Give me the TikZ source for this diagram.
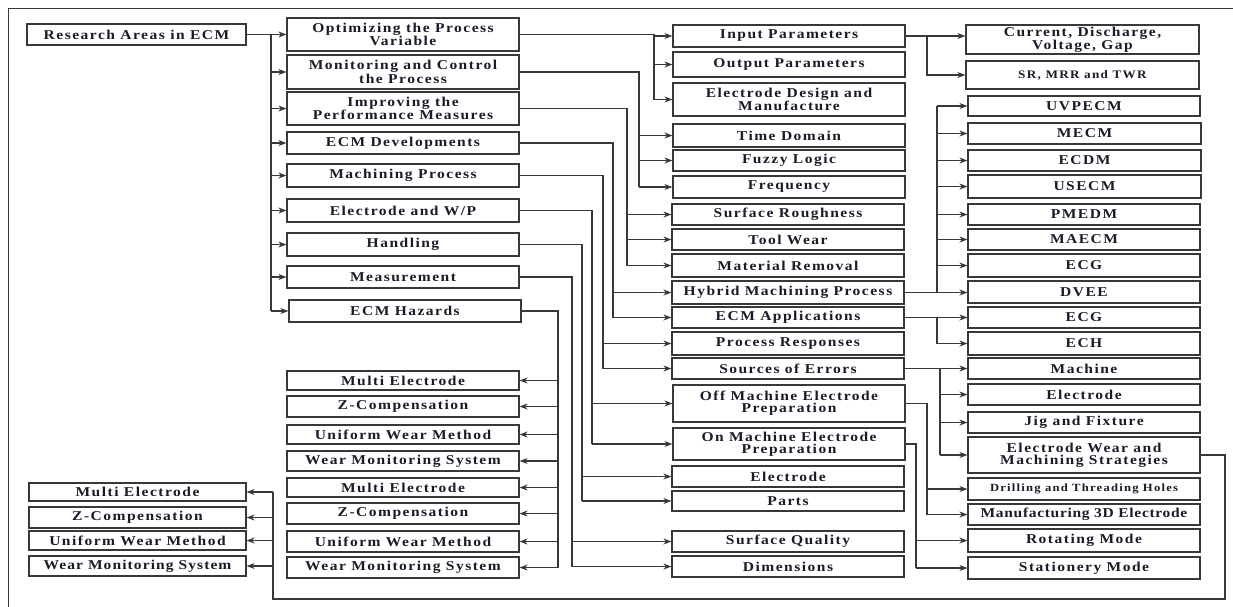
\documentclass[tikz,border=0pt]{standalone}
\usepackage{fontspec}
\setmainfont{Liberation Serif}[FakeStretch=1.15,LetterSpace=11]
\newfontfamily\tightfont{Liberation Serif}[FakeStretch=1.15,LetterSpace=5]
\newfontfamily\midfont{Liberation Serif}[FakeStretch=1.15,LetterSpace=8]
\usetikzlibrary{arrows.meta}
\definecolor{ink}{HTML}{1A1A28}
\definecolor{ln}{HTML}{383838}
\tikzset{
 box/.style={draw=ln, line width=1.2pt, rectangle, inner sep=0pt, align=center, text=ink, font=\fontsize{13.5}{12}\selectfont\bfseries},
 smallbox/.style={font=\fontsize{11.5}{11}\selectfont\bfseries},
 tinybox/.style={font=\fontsize{11}{11}\selectfont\bfseries},
 tightbox/.style={font=\tightfont\fontsize{13.5}{12}\selectfont\bfseries},
 midbox/.style={font=\midfont\fontsize{13.5}{12}\selectfont\bfseries},
 conn/.style={draw=ln, line width=1.1pt},
 arr/.style={conn, -{Stealth[length=8pt,width=6pt]}},
 frame/.style={draw=ln, line width=1pt}
}
\newcommand\bx[7][]{\node[box,#1,minimum width={(#5-#3)*1pt},minimum height={(#6-#4)*1pt}] (#2) at ({(#3+#5)/2},{(#4+#6)/2}) {#7};}
% trunk from parent's east side to bus x, down to the last child's level; then arrows to each child
\newcommand\busR[4]{%
  \draw[conn] (#1.east) -| (#2 |- #3.west);
  \foreach \c in {#4} \draw[arr] (#2 |- \c.west) -- (\c.west);}
\begin{document}
\begin{tikzpicture}[x=1pt,y=-1pt]
\useasboundingbox (0,0) rectangle (1233,606);
\draw[frame] (8,620) -- (8,8) -- (1245,8);
% column A
\bx{res}{27}{24}{246}{45}{Research Areas in ECM}
% column B
\bx{b1}{287}{18}{519}{51}{Optimizing the Process\\Variable}
\bx{b2}{287}{55}{519}{89}{Monitoring and Control\\the Process}
\bx{b3}{287}{92}{519}{125}{Improving the\\Performance Measures}
\bx{b4}{287}{132}{519}{154}{ECM Developments}
\bx{b5}{287}{164}{519}{187}{Machining Process}
\bx{b6}{287}{199}{519}{222}{Electrode and W/P}
\bx{b7}{287}{233}{519}{256}{Handling}
\bx{b8}{287}{266}{519}{288}{Measurement}
\bx{b9}{289}{300}{521}{322}{ECM Hazards}
% lower column B
\bx{m1}{287}{371}{519}{390}{Multi Electrode}
\bx{m2}{287}{396}{519}{417}{Z-Compensation}
\bx{m3}{287}{425}{519}{444}{Uniform Wear Method}
\bx{m4}{287}{451}{519}{471}{Wear Monitoring System}
\bx{m5}{287}{478}{519}{497}{Multi Electrode}
\bx{m6}{287}{503}{519}{524}{Z-Compensation}
\bx{m7}{287}{531}{519}{552}{Uniform Wear Method}
\bx{m8}{287}{557}{519}{578}{Wear Monitoring System}
% left column
\bx{l1}{29}{483}{246}{501}{Multi Electrode}
\bx{l2}{29}{507}{246}{528}{Z-Compensation}
\bx{l3}{29}{531}{246}{550}{Uniform Wear Method}
\bx[midbox]{l4}{29}{556}{246}{576}{Wear Monitoring System}
% column C
\bx{c1}{673}{25}{905}{47}{Input Parameters}
\bx{c2}{673}{52}{905}{77}{Output Parameters}
\bx{c3}{673}{83}{905}{116}{Electrode Design and\\Manufacture}
\bx{c4}{673}{124}{905}{147}{Time Domain}
\bx{c5}{673}{150}{905}{171}{Fuzzy Logic}
\bx{c6}{673}{176}{905}{198}{Frequency}
\bx{c7}{672}{204}{904}{225}{Surface Roughness}
\bx{c8}{672}{229}{904}{250}{Tool Wear}
\bx{c9}{672}{254}{904}{277}{Material Removal}
\bx{c10}{672}{281}{904}{304}{Hybrid Machining Process}
\bx{c11}{672}{307}{904}{328}{ECM Applications}
\bx{c12}{672}{332}{904}{355}{Process Responses}
\bx{c13}{672}{358}{904}{379}{Sources of Errors}
\bx{c14}{673}{385}{905}{422}{Off Machine Electrode\\Preparation}
\bx{c15}{673}{428}{905}{460}{On Machine Electrode\\Preparation}
\bx{c16}{672}{466}{904}{487}{Electrode}
\bx{c17}{672}{491}{904}{511}{Parts}
\bx{c18}{672}{531}{904}{552}{Surface Quality}
\bx{c19}{672}{556}{904}{577}{Dimensions}
% column D
\bx{d1}{966}{25}{1199}{54}{Current, Discharge,\\Voltage, Gap}
\bx[smallbox]{d2}{966}{61}{1199}{89}{SR, MRR and TWR}
\bx{d3}{968}{96}{1200}{116}{UVPECM}
\bx{d4}{968}{123}{1201}{144}{MECM}
\bx{d5}{968}{150}{1201}{171}{ECDM}
\bx{d6}{968}{175}{1201}{198}{USECM}
\bx{d7}{968}{204}{1200}{225}{PMEDM}
\bx{d8}{968}{229}{1200}{250}{MAECM}
\bx{d9}{968}{254}{1200}{277}{ECG}
\bx{d10}{968}{281}{1200}{303}{DVEE}
\bx{d11}{968}{307}{1200}{328}{ECG}
\bx{d12}{968}{332}{1200}{355}{ECH}
\bx{d13}{968}{358}{1200}{379}{Machine}
\bx{d14}{968}{384}{1200}{405}{Electrode}
\bx{d15}{968}{412}{1200}{433}{Jig and Fixture}
\bx{d16}{968}{437}{1200}{473}{Electrode Wear and\\Machining Strategies}
\bx[tinybox]{d17}{968}{478}{1200}{500}{Drilling and Threading Holes}
\bx[tightbox]{d18}{968}{504}{1200}{525}{Manufacturing 3D Electrode}
\bx{d19}{968}{529}{1200}{552}{Rotating Mode}
\bx{d20}{968}{557}{1200}{579}{Stationery Mode}
% bus coordinates
\coordinate (xa) at (271,0);
\coordinate (x1) at (654,0);
\coordinate (x2) at (639,0);
\coordinate (x3) at (627,0);
\coordinate (x4) at (613,0);
\coordinate (x5) at (603,0);
\coordinate (x6) at (592,0);
\coordinate (x7) at (582,0);
\coordinate (x8) at (572,0);
\coordinate (x9) at (558,0);
\coordinate (xi) at (927,0);
\coordinate (xh) at (937,0);
\coordinate (xs) at (940,0);
\coordinate (xo) at (927,0);
\coordinate (xn) at (916,0);
\coordinate (lr) at (1225,599);
\coordinate (ll) at (273,599);
% A -> B
\busR{res}{xa}{b9}{b1,b2,b3,b4,b5,b6,b7,b8,b9}
% B -> C
\busR{b1}{x1}{c3}{c1,c2,c3}
\busR{b2}{x2}{c6}{c4,c5,c6}
\busR{b3}{x3}{c9}{c7,c8,c9}
\busR{b4}{x4}{c11}{c10,c11}
\busR{b5}{x5}{c13}{c12,c13}
\busR{b6}{x6}{c15}{c14,c15}
\busR{b7}{x7}{c17}{c16,c17}
\busR{b8}{x8}{c19}{c18,c19}
% ECM Hazards -> lower B (leftward)
\draw[conn] (b9.east) -| (x9 |- m8.east);
\foreach \c in {m1,m2,m3,m4,m5,m6,m7,m8}
  \draw[arr] (x9 |- \c.east) -- (\c.east);
% C -> D
\draw[arr] (c1.east) -- (d1.west |- c1.east);
\draw[arr] (xi |- c1.east) |- (d2.west);
\draw[arr] (c10.east) -- (d10.west |- c10.east);
\draw[conn] (xh |- c10.east) -- (xh |- d3.west);
\foreach \c in {d3,d4,d5,d6,d7,d8,d9}
  \draw[arr] (xh |- \c.west) -- (\c.west);
\busR{c11}{xh}{d12}{d11,d12}
\busR{c13}{xs}{d16}{d13,d14,d15,d16}
\busR{c14}{xo}{d18}{d17,d18}
\busR{c15}{xn}{d20}{d19,d20}
% loop back to left column
\draw[conn] (d16.east) -| (lr) -- (ll) -- (ll |- l1.east);
\foreach \c in {l1,l2,l3,l4}
  \draw[arr] (ll |- \c.east) -- (\c.east);
\end{tikzpicture}
\end{document}
